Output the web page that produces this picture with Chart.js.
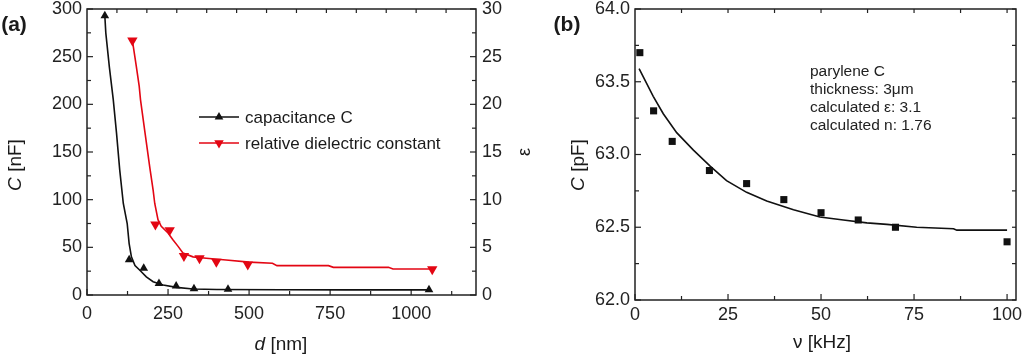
<!DOCTYPE html>
<html><head><meta charset="utf-8">
<script src="https://cdn.jsdelivr.net/npm/chart.js@4"></script>
<style>
html,body{margin:0;padding:0;background:#fff;}
body{width:1024px;height:355px;position:relative;overflow:hidden;font-family:"Liberation Sans",Arial,sans-serif;color:#1a1a1a;}
#wa{position:absolute;left:0;top:0;width:545px;height:355px;}
#wb{position:absolute;left:545px;top:0;width:479px;height:355px;}
.t{position:absolute;white-space:nowrap;font-size:19px;line-height:1;}
.rot{transform:translate(-50%,-50%) rotate(-90deg);}
.ctr{transform:translate(-50%,-50%);}
#note{position:absolute;left:810px;top:62px;font-size:15.5px;line-height:18px;white-space:nowrap;color:#222;}
</style></head><body>
<div id="wa"><canvas id="ca"></canvas></div>
<div id="wb"><canvas id="cb"></canvas></div>
<div class="t ctr" style="left:14px;top:23px;font-weight:bold;font-size:21px">(a)</div>
<div class="t ctr" style="left:567px;top:23px;font-weight:bold;font-size:21px">(b)</div>
<div class="t rot" style="left:14px;top:165px"><i>C</i> [nF]</div>
<div class="t rot" style="left:524px;top:152px;font-size:18px">ε</div>
<div class="t ctr" style="left:281px;top:343px"><i>d</i> [nm]</div>
<div class="t rot" style="left:577px;top:165px"><i>C</i> [pF]</div>
<div class="t ctr" style="left:822px;top:341px">ν [kHz]</div>
<div id="note">parylene C<br>thickness: 3μm<br>calculated ε: 3.1<br>calculated n: 1.76</div>
<script>
// ---------- Panel (a) data ----------
const capMarkD = [55,130,175,222,275,330,435,1055];
const capMarkC = [293,37,28,12,9.5,6.5,6,5.5];
const capFitD = [55,58,69,81,91,101,112,124,130,137,148,163,183,204,235,276,327,400,600,800,1055];
const capFitC = [293,275,239,205,170,131,96,75,54,40,31,26,19,14,10.5,8,6.3,5.7,5.5,5.4,5.4];
const epsMarkD = [140,211,255,299,347,399,496,1065];
const epsMarkE = [26.7,7.4,6.8,4.1,3.85,3.5,3.2,2.7];
const epsFitD = [140,152,161,165,179,194,204,209,219,229,250,265,281,296,327,368,429,500,572,586,745,760,930,944,1065];
const epsFitE = [26.7,24.0,21.9,20.5,17,13.3,11,9.6,7.9,7.2,6.5,5.8,5.1,4.4,4.0,3.85,3.67,3.45,3.33,3.08,3.08,2.9,2.9,2.73,2.73];
const xTicksA = [0,250,500,750,1000];
const xMinorA = [125,375,625,875,1125];
const yTicksA = [0,50,100,150,200,250,300];
const yMinorA = [25,75,125,175,225,275];
const y2TicksA = [0,5,10,15,20,25,30];
const y2MinorA = [2.5,7.5,12.5,17.5,22.5,27.5];
const topTicksA = [1,2,3,4,5,6,7,8,9,10,11,12];
const legendLabelsA = ['capacitance C','relative dielectric constant'];

// ---------- Panel (b) data ----------
const freqMark = [1.3,5,10,20,30,40,50,60,70,100];
const capMarkPF = [63.70,63.30,63.09,62.89,62.80,62.69,62.60,62.55,62.50,62.40];
const fitF = [1.1,4.9,7.6,11.2,15.7,20.2,24.6,30,35.4,42.6,49.7,56,62.3,67.7,75.7,85.6,86.5,100];
const fitC = [63.59,63.40,63.28,63.15,63.03,62.92,62.82,62.74,62.68,62.62,62.57,62.55,62.53,62.52,62.50,62.49,62.48,62.48];
const xTicksB = [0,25,50,75,100];
const xMinorB = [12.5,37.5,62.5,87.5];
const topTicksB = [12.5,25,37.5,50,62.5,75,87.5,100];
const yTicksB = [62.0,62.5,63.0,63.5,64.0];
const yMinorB = [62.25,62.75,63.25,63.75];

const RED = '#e30613', BLK = '#111';
const FONT = "'Liberation Sans', Arial, sans-serif";
const pts = (xs, ys) => xs.map((x, i) => ({x, y: ys[i]}));
const setTicks = arr => s => { s.ticks = arr.map(v => ({value: v})); };

const framePlugin = {
  id: 'frame',
  beforeDatasetsDraw(chart, args, opts) {
    const {ctx, chartArea: a} = chart;
    ctx.save();
    ctx.strokeStyle = '#222';
    ctx.lineWidth = 1.5;
    ctx.strokeRect(a.left, a.top, a.right - a.left, a.bottom - a.top);
    ctx.lineWidth = 1.2;
    (opts.marks || []).forEach(m => {
      const s = chart.scales[m.scale];
      m.values.forEach(v => {
        const p = s.getPixelForValue(v);
        ctx.beginPath();
        if (m.side === 'bottom') { ctx.moveTo(p, a.bottom); ctx.lineTo(p, a.bottom - m.len); }
        else if (m.side === 'top') { ctx.moveTo(p, a.top); ctx.lineTo(p, a.top + m.len); }
        else if (m.side === 'left') { ctx.moveTo(a.left, p); ctx.lineTo(a.left + m.len, p); }
        else { ctx.moveTo(a.right, p); ctx.lineTo(a.right - m.len, p); }
        ctx.stroke();
      });
    });
    ctx.restore();
  }
};

function tri(ctx, x, y, r, down) {
  ctx.beginPath();
  const s = down ? -1 : 1;
  ctx.moveTo(x, y - s * r);
  ctx.lineTo(x - r * 0.866, y + s * r * 0.5);
  ctx.lineTo(x + r * 0.866, y + s * r * 0.5);
  ctx.closePath();
  ctx.fill();
}

const legendPlugin = {
  id: 'leg',
  afterDraw(chart) {
    const {ctx, chartArea: a} = chart;
    const x0 = a.left + 112, ys = [a.top + 108, a.top + 134];
    const cols = [BLK, RED];
    ctx.save();
    ctx.font = '17px ' + FONT;
    ctx.textBaseline = 'middle';
    ys.forEach((y, i) => {
      ctx.strokeStyle = cols[i]; ctx.fillStyle = cols[i];
      ctx.lineWidth = 1.5;
      ctx.beginPath(); ctx.moveTo(x0, y); ctx.lineTo(x0 + 40, y); ctx.stroke();
      tri(ctx, x0 + 20, y, i === 0 ? 5 : 5.5, i === 1);
      ctx.fillStyle = '#1a1a1a';
      ctx.fillText(legendLabelsA[i], x0 + 46, y + 1);
    });
    ctx.restore();
  }
};

const tickFont = {family: FONT, size: 18};
const noGrid = {display: false, drawTicks: false};
const noBorder = {display: false};
const plain = v => String(v);

new Chart(document.getElementById('ca'), {
  type: 'scatter',
  data: {
    datasets: [
      {data: pts(capFitD, capFitC), showLine: true, borderColor: BLK, borderWidth: 1.6, pointRadius: 0, xAxisID: 'x', yAxisID: 'y', tension: 0},
      {data: pts(epsFitD, epsFitE), showLine: true, borderColor: RED, borderWidth: 1.6, pointRadius: 0, xAxisID: 'x', yAxisID: 'y2', tension: 0},
      {data: pts(capMarkD, capMarkC), pointStyle: 'triangle', pointRadius: 5, backgroundColor: BLK, borderColor: BLK, borderWidth: 0, xAxisID: 'x', yAxisID: 'y'},
      {data: pts(epsMarkD, epsMarkE), pointStyle: 'triangle', rotation: 180, pointRadius: 6, backgroundColor: RED, borderColor: RED, borderWidth: 0, xAxisID: 'x', yAxisID: 'y2'}
    ]
  },
  options: {
    responsive: true, maintainAspectRatio: false, animation: false, devicePixelRatio: 1,
    clip: false,
    layout: {padding: {top: 9, left: 0, right: 0, bottom: 0}},
    plugins: {legend: {display: false}, tooltip: {enabled: false},
      frame: {marks: [
        {scale: 'x', side: 'bottom', values: xTicksA, len: 6},
        {scale: 'x', side: 'bottom', values: xMinorA, len: 4},
        {scale: 'x2', side: 'top', values: topTicksA, len: 4},
        {scale: 'y', side: 'left', values: yTicksA, len: 6},
        {scale: 'y', side: 'left', values: yMinorA, len: 4},
        {scale: 'y2', side: 'right', values: y2TicksA, len: 6},
        {scale: 'y2', side: 'right', values: y2MinorA, len: 4}
      ]}},
    scales: {
      x: {type: 'linear', position: 'bottom', min: 0, max: 1200, grid: noGrid, border: noBorder,
        afterBuildTicks: setTicks(xTicksA),
        ticks: {font: tickFont, color: '#222', padding: 8, maxRotation: 0, autoSkip: false, callback: plain},
        afterFit: s => { s.height = 60; s.paddingLeft = 0; s.paddingRight = 0; }},
      x2: {type: 'linear', position: 'top', min: 0, max: 13, display: false},
      y: {type: 'linear', position: 'left', min: 0, max: 300, grid: noGrid, border: noBorder,
        afterBuildTicks: setTicks(yTicksA),
        ticks: {font: tickFont, color: '#222', padding: 5, callback: plain},
        afterFit: s => { s.width = 87; s.paddingTop = 0; s.paddingBottom = 0; }},
      y2: {type: 'linear', position: 'right', min: 0, max: 30, grid: noGrid, border: noBorder,
        afterBuildTicks: setTicks(y2TicksA),
        ticks: {font: tickFont, color: '#222', padding: 6, callback: plain},
        afterFit: s => { s.width = 69; s.paddingTop = 0; s.paddingBottom = 0; }}
    }
  },
  plugins: [framePlugin, legendPlugin]
});

new Chart(document.getElementById('cb'), {
  type: 'scatter',
  data: {
    datasets: [
      {data: pts(fitF, fitC), showLine: true, borderColor: BLK, borderWidth: 1.6, pointRadius: 0, tension: 0},
      {data: pts(freqMark, capMarkPF), pointStyle: 'rect', pointRadius: 5, backgroundColor: BLK, borderColor: BLK, borderWidth: 0}
    ]
  },
  options: {
    responsive: true, maintainAspectRatio: false, animation: false, devicePixelRatio: 1,
    clip: false,
    layout: {padding: {top: 9, left: 0, right: 8, bottom: 0}},
    plugins: {legend: {display: false}, tooltip: {enabled: false},
      frame: {marks: [
        {scale: 'x', side: 'bottom', values: xTicksB, len: 6},
        {scale: 'x', side: 'bottom', values: xMinorB, len: 4},
        {scale: 'x', side: 'top', values: topTicksB, len: 4},
        {scale: 'y', side: 'left', values: yTicksB, len: 6},
        {scale: 'y', side: 'left', values: yMinorB, len: 4},
        {scale: 'y', side: 'right', values: yTicksB.concat(yMinorB), len: 4}
      ]}},
    scales: {
      x: {type: 'linear', position: 'bottom', min: 0, max: 102.4, grid: noGrid, border: noBorder,
        afterBuildTicks: setTicks(xTicksB),
        ticks: {font: tickFont, color: '#222', padding: 4, maxRotation: 0, autoSkip: false, callback: plain},
        afterFit: s => { s.height = 55; s.paddingLeft = 0; s.paddingRight = 0; }},
      y: {type: 'linear', position: 'left', min: 62, max: 64, grid: noGrid, border: noBorder,
        afterBuildTicks: setTicks(yTicksB),
        ticks: {font: tickFont, color: '#222', padding: 5, callback: v => v.toFixed(1)},
        afterFit: s => { s.width = 90; s.paddingTop = 0; s.paddingBottom = 0; }}
    }
  },
  plugins: [framePlugin]
});
</script>
</body></html>
